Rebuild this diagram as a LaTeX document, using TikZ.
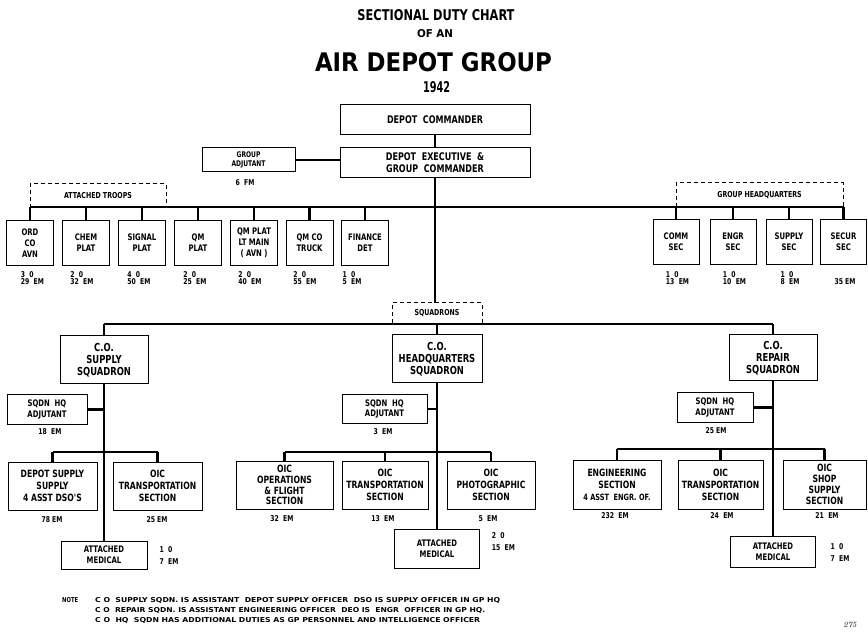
\documentclass[tikz,border=0pt]{standalone}
\usepackage{fontspec}
\usepackage{graphicx}
\newfontfamily\bxf{DejaVu Sans Condensed Bold}[FakeStretch=0.85]
\newfontfamily\ntf{DejaVu Sans Condensed Bold}[FakeStretch=0.8]
\newfontfamily\ttlf{DejaVu Sans Condensed Bold}
\begin{document}
\begin{tikzpicture}[x=1pt,y=-1pt,
  box/.style={draw, line width=1pt, inner sep=0pt, outer sep=0pt, align=center,
    font=\bxf\fontsize{10}{12}\selectfont},
  box4/.style={box, font=\bxf\fontsize{10}{10.8}\selectfont},
  cobox/.style={box, font=\bxf\fontsize{11}{12}\selectfont},
  sbox/.style={box, font=\bxf\fontsize{9}{10.8}\selectfont},
  dbox/.style={draw, dash pattern=on 4pt off 3pt, line width=1pt, inner sep=0pt, outer sep=0pt,
    font=\bxf\fontsize{8.2}{9}\selectfont},
  conn/.style={line width=2.6pt},
  cnt/.style={font=\bxf\fontsize{8}{7.6}\selectfont, align=left, inner sep=0pt},
  cntw/.style={font=\bxf\fontsize{8}{12}\selectfont, align=left, inner sep=0pt},
  ttl/.style={inner sep=0pt, font=\ttlf},
  note/.style={inner sep=0pt, anchor=west, font=\ntf}
]
\useasboundingbox (0,0) rectangle (868,636);

% ---- title ----
\node[ttl] (t1) at (436,15) {\resizebox{157pt}{11pt}{SECTIONAL DUTY CHART}};
\node[ttl] (t2) at (435,34) {\resizebox{36pt}{8pt}{OF AN}};
\node[ttl] (t3) at (433.5,62.5) {\resizebox{237pt}{19pt}{AIR DEPOT GROUP}};
\node[ttl] (t4) at (436.5,87) {\resizebox{27pt}{11pt}{1942}};

% ---- dashed group boxes ----
\node[dbox, minimum width=136pt, minimum height=23pt] (atr) at (98,195.5) {ATTACHED TROOPS};
\node[dbox, minimum width=167pt, minimum height=24pt] (ghq) at (759.5,195) {GROUP HEADQUARTERS};
\node[dbox, minimum width=90pt, minimum height=21pt] (sq) at (437,313.5) {SQUADRONS};

% ---- command boxes ----
\node[box, minimum width=190pt, minimum height=30pt, font=\bxf\fontsize{10.5}{12}\selectfont] (dc) at (435,120) {DEPOT\ \ COMMANDER};
\node[box, minimum width=190pt, minimum height=30pt, font=\bxf\fontsize{10.5}{12}\selectfont] (dex) at (435,163) {DEPOT\ \ EXECUTIVE\ \ \&\\GROUP\ \ COMMANDER};
\node[box, minimum width=93pt, minimum height=24pt, font=\bxf\fontsize{7.8}{8.7}\selectfont] (gadj) at (248.5,160) {GROUP\\ADJUTANT};
\node[cnt] (gadjl) at (245,183) {6\ \ FM};

% ---- attached troops ----
\node[sbox, minimum width=47pt, minimum height=45pt] (ord) at (30,243) {ORD\\CO\\AVN};
\node[sbox, minimum width=47pt, minimum height=45pt] (chem) at (86,243) {CHEM\\PLAT};
\node[sbox, minimum width=47pt, minimum height=45pt] (sig) at (142,243) {SIGNAL\\PLAT};
\node[sbox, minimum width=47pt, minimum height=45pt] (qmp) at (198,243) {QM\\PLAT};
\node[sbox, minimum width=47pt, minimum height=45pt] (qml) at (254,243) {QM PLAT\\LT MAIN\\( AVN )};
\node[sbox, minimum width=47pt, minimum height=45pt] (qmc) at (309.5,243) {QM CO\\TRUCK};
\node[sbox, minimum width=47pt, minimum height=45pt] (fin) at (365,243) {FINANCE\\DET};
\node[cnt] (ordl) at (32.5,278) {3\ \ 0\\29\ \ EM};
\node[cnt] (cheml) at (82,278) {2\ \ 0\\32\ \ EM};
\node[cnt] (sigl) at (139,278) {4\ \ 0\\50\ \ EM};
\node[cnt] (qmpl) at (195,278) {2\ \ 0\\25\ \ EM};
\node[cnt] (qmll) at (250,278) {2\ \ 0\\40\ \ EM};
\node[cnt] (qmcl) at (305,278) {2\ \ 0\\55\ \ EM};
\node[cnt] (finl) at (352,278) {1\ \ 0\\5\ \ EM};

% ---- group headquarters ----
\node[sbox, minimum width=46pt, minimum height=45pt] (comm) at (676,242) {COMM\\SEC};
\node[sbox, minimum width=46pt, minimum height=45pt] (engr) at (733,242) {ENGR\\SEC};
\node[sbox, minimum width=46pt, minimum height=45pt] (supp) at (789,242) {SUPPLY\\SEC};
\node[sbox, minimum width=46pt, minimum height=45pt] (secur) at (843.5,242) {SECUR\\SEC};
\node[cnt] (comml) at (677.5,278) {1\ \ 0\\13\ \ EM};
\node[cnt] (engrl) at (734.5,278) {1\ \ 0\\10\ \ EM};
\node[cnt] (suppl) at (790,278) {1\ \ 0\\8\ \ EM};
\node[cnt] (securl) at (845,282) {35 EM};

% ---- squadron commanders ----
\node[cobox, minimum width=88pt, minimum height=48pt] (cos) at (104,360) {C.O.\\SUPPLY\\SQUADRON};
\node[cobox, minimum width=90pt, minimum height=48pt] (coh) at (437,359) {C.O.\\HEADQUARTERS\\SQUADRON};
\node[cobox, minimum width=88pt, minimum height=46pt] (cor) at (773,358) {C.O.\\REPAIR\\SQUADRON};

% ---- adjutants ----
\node[sbox, minimum width=80pt, minimum height=29pt] (adj1) at (47,409.5) {SQDN\ \ HQ\\ADJUTANT};
\node[sbox, minimum width=85pt, minimum height=28pt] (adj2) at (384.5,409) {SQDN\ \ HQ\\ADJUTANT};
\node[sbox, minimum width=76pt, minimum height=29pt] (adj3) at (715,407.5) {SQDN\ \ HQ\\ADJUTANT};
\node[cnt] (adj1l) at (50,432) {18\ \ EM};
\node[cnt] (adj2l) at (383,432) {3\ \ EM};
\node[cnt] (adj3l) at (716,431) {25 EM};

% ---- sections ----
\node[box, minimum width=89pt, minimum height=48pt] (ds) at (52.5,486) {DEPOT SUPPLY\\SUPPLY\\4 ASST DSO'S};
\node[box, minimum width=89pt, minimum height=48pt] (ot1) at (157.5,486) {OIC\\TRANSPORTATION\\SECTION};
\node[box4, minimum width=97pt, minimum height=48pt] (ops) at (284.5,485) {OIC\\OPERATIONS\\\& FLIGHT\\SECTION};
\node[box, minimum width=86pt, minimum height=48pt] (ot2) at (385,485) {OIC\\TRANSPORTATION\\SECTION};
\node[box, minimum width=88pt, minimum height=48pt] (pho) at (491,485) {OIC\\PHOTOGRAPHIC\\SECTION};
\node[box, minimum width=88pt, minimum height=49pt] (eng) at (617,484.5) {ENGINEERING\\SECTION\\{\fontsize{8.6}{10}\selectfont 4 ASST\ \ ENGR. OF.}};
\node[box, minimum width=85pt, minimum height=49pt] (ot3) at (720.5,484.5) {OIC\\TRANSPORTATION\\SECTION};
\node[box4, minimum width=83pt, minimum height=49pt] (shop) at (824.5,484.5) {OIC\\SHOP\\SUPPLY\\SECTION};
\node[cnt] (dsl) at (52,520) {78 EM};
\node[cnt] (ot1l) at (157,520) {25 EM};
\node[cnt] (opsl) at (282,519) {32\ \ EM};
\node[cnt] (ot2l) at (383,519) {13\ \ EM};
\node[cnt] (phol) at (488,519) {5\ \ EM};
\node[cnt] (engl) at (615,516) {232\ \ EM};
\node[cnt] (ot3l) at (722,516) {24\ \ EM};
\node[cnt] (shopl) at (827,516) {21\ \ EM};

% ---- attached medical ----
\node[sbox, minimum width=86pt, minimum height=28pt] (med1) at (104,555) {ATTACHED\\MEDICAL};
\node[sbox, minimum width=85pt, minimum height=39pt] (med2) at (437,548.5) {ATTACHED\\MEDICAL};
\node[sbox, minimum width=85pt, minimum height=31pt] (med3) at (773,551.5) {ATTACHED\\MEDICAL};
\node[cntw] (med1l) at (169,555.5) {1\ \ 0\\7\ \ EM};
\node[cntw] (med2l) at (503.5,541.5) {2\ \ 0\\15\ \ EM};
\node[cntw] (med3l) at (840,553) {1\ \ 0\\7\ \ EM};

% ---- bar coordinates ----
\coordinate (bl) at (30,207);
\coordinate (br) at (843.5,207);
\coordinate (sl) at (104,324);
\coordinate (sr) at (773,324);
\coordinate (b1l) at (52.5,452);
\coordinate (b1r) at (157.5,452);
\coordinate (b2l) at (284.5,452);
\coordinate (b2r) at (491,452);
\coordinate (b3l) at (617,449);
\coordinate (b3r) at (824.5,449);

% ---- connectors ----
\draw[conn] (dc.south) -- (dex.north);
\draw[conn] (gadj.east) -- (gadj.east -| dex.west);
\draw[conn] (dex.south) -- (dex.south |- sq.north);
\draw[conn] (bl) -- (br);
\foreach \n in {ord,chem,sig,qmp,qml,qmc,fin,comm,engr,supp,secur}
  \draw[conn] (\n.north |- bl) -- (\n.north);
\draw[conn] (sl) -- (sr);
\foreach \n in {cos,coh,cor}
  \draw[conn] (\n.north |- sl) -- (\n.north);
\draw[conn] (cos.south) -- (med1.north);
\draw[conn] (coh.south) -- (med2.north);
\draw[conn] (cor.south) -- (med3.north);
\draw[conn] (adj1.east) -- (adj1.east -| cos.south);
\draw[conn] (adj2.east) -- (adj2.east -| coh.south);
\draw[conn] (adj3.east) -- (adj3.east -| cor.south);
\draw[conn] (b1l) -- (b1r);
\draw[conn] (b2l) -- (b2r);
\draw[conn] (b3l) -- (b3r);
\foreach \n in {ds,ot1}
  \draw[conn] (\n.north |- b1l) -- (\n.north);
\foreach \n in {ops,ot2,pho}
  \draw[conn] (\n.north |- b2l) -- (\n.north);
\foreach \n in {eng,ot3,shop}
  \draw[conn] (\n.north |- b3l) -- (\n.north);

% ---- notes ----
\node[note] (nt) at (62,600) {\resizebox{16pt}{5pt}{NOTE}};
\node[note] (n1) at (95,600) {\resizebox{405pt}{5pt}{C O\ \ SUPPLY SQDN. IS ASSISTANT\ \ DEPOT SUPPLY OFFICER\ \ DSO IS SUPPLY OFFICER IN GP HQ}};
\node[note] (n2) at (95,610) {\resizebox{390pt}{5pt}{C O\ \ REPAIR SQDN. IS ASSISTANT ENGINEERING OFFICER\ \ DEO IS\ \ ENGR\ \ OFFICER IN GP HQ.}};
\node[note] (n3) at (95,620) {\resizebox{385pt}{5pt}{C O\ \ HQ\ \ SQDN HAS ADDITIONAL DUTIES AS GP PERSONNEL AND INTELLIGENCE OFFICER}};
\node[inner sep=0pt, font=\fontsize{8}{8}\selectfont\itshape] (pg) at (850,625) {275};
\end{tikzpicture}
\end{document}
